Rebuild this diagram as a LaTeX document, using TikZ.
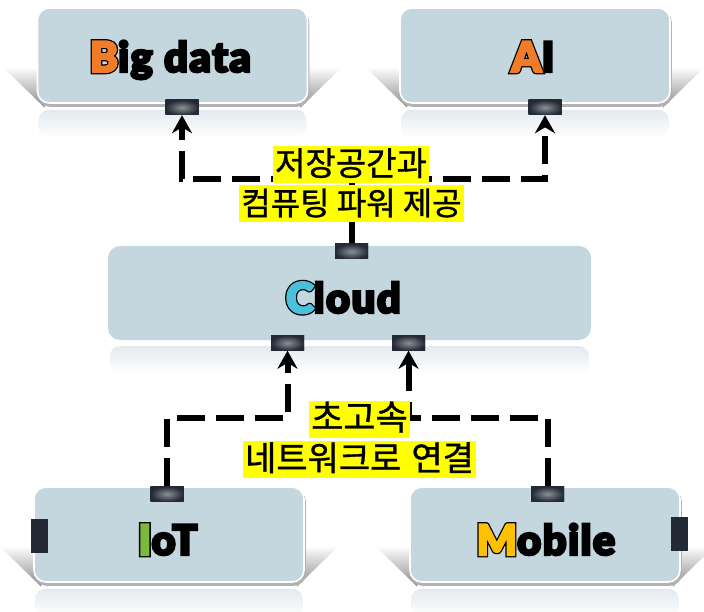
\documentclass[tikz,border=0pt]{standalone}
\usepackage{fontspec}
\usetikzlibrary{arrows.meta,calc,backgrounds}
\newfontfamily\heavy{Lato Black}[FakeBold=5, LetterSpace=3]
\newfontfamily\heavyedge{Lato Black}[FakeBold=11]
\newfontfamily\kr{Noto Sans CJK KR}[FakeBold=1]
\definecolor{boxfill}{HTML}{C4D6DE}
\definecolor{portdark}{HTML}{232A35}
\definecolor{portmid}{HTML}{8C9096}
\definecolor{reflect}{HTML}{E3EAEE}
\definecolor{wingshade}{HTML}{8A8A8A}
\definecolor{hlyellow}{HTML}{FFFF00}
\definecolor{orangeB}{HTML}{F07C2A}
\definecolor{cyanC}{HTML}{4CBFDA}
\definecolor{greenI}{HTML}{7CB83A}
\definecolor{amberM}{HTML}{FFC000}
% coloured first letter with a black outline
\newcommand\lead[2]{\rlap{\heavyedge #2}\textcolor{#1}{#2}}
% reflection under a card
\newcommand\cardbase[1]{%
  \shade[top color=reflect, bottom color=white, rounded corners=10pt]
    ($(#1.south west)+(2,6)$) rectangle ($(#1.south east)+(-2,34)$);}
% perspective side shadows and drop shadow of a card
\newcommand\cardwings[1]{%
  \shade[top color=white, bottom color=wingshade]
    ($(#1.south west)+(-34,-37)$) -- ($(#1.south west)+(8,-37)$) -- ($(#1.south west)+(8,4)$) -- cycle;
  \shade[top color=white, bottom color=wingshade]
    ($(#1.south east)+(34,-37)$) -- ($(#1.south east)+(-8,-37)$) -- ($(#1.south east)+(-8,4)$) -- cycle;
  \fill[gray!60, rounded corners=12pt]
    ($(#1.north west)+(1,3)$) rectangle ($(#1.south east)+(1,3)$);}
\begin{document}
\begin{tikzpicture}[x=1pt,y=-1pt,
  card/.style={rectangle, rounded corners=12pt, fill=boxfill, minimum width=270pt,
    minimum height=95pt, inner sep=0pt},
  rim/.style={draw=white, line width=1.6pt},
  title/.style={font=\heavy\fontsize{42}{44}\selectfont, anchor=base, inner sep=0pt},
  port/.style={rectangle, minimum width=33pt, minimum height=15pt, inner sep=0pt,
    inner color=portmid, outer color=portdark},
  sideport/.style={rectangle, fill=portdark, minimum width=17pt, minimum height=34pt, inner sep=0pt},
  conn/.style={line width=6pt, dash pattern=on 28pt off 11pt},
  tip/.style={-{Stealth[length=18pt,width=20pt]}},
  hl/.style={fill=hlyellow, inner xsep=2pt, inner ysep=0pt, minimum height=37pt,
    text height=27pt, text depth=5pt},
]
\useasboundingbox (0,0) rectangle (704,612);

% cards
\node[card, rim] (bigdata) at (172.5,55.5) {};
\node[card, rim] (ai) at (535,55.5) {};
\node[card, minimum width=483pt, minimum height=94pt] (cloud) at (349.5,293) {};
\node[card, rim] (iot) at (169,534.5) {};
\node[card, rim] (mobile) at (545,534.5) {};

\begin{scope}[on background layer]
  \foreach \c in {bigdata,ai,cloud,iot,mobile} {\cardbase{\c}}
  \foreach \c in {bigdata,ai,iot,mobile} {\cardwings{\c}}
\end{scope}

% card titles
\node[title] (tbig) at ($(bigdata.center)+(-2,16.5)$) {\lead{orangeB}{B}ig data};
\node[title] (tai) at ($(ai.center)+(-2,16.5)$) {\lead{orangeB}{A}I};
\node[title] (tcloud) at ($(cloud.center)+(-6,20)$) {\lead{cyanC}{C}loud};
\node[title] (tiot) at ($(iot.center)+(-1,20.5)$) {\lead{greenI}{I}oT};
\node[title] (tmob) at ($(mobile.center)+(1,20.5)$) {\lead{amberM}{M}obile};

% ports
\node[port] (pbig) at (182,107.5) {};
\node[port] (pai) at (545,107.5) {};
\node[port] (pctop) at (351.5,251.5) {};
\node[port] (pcl) at (287.5,343) {};
\node[port] (pcr) at (408.5,343) {};
\node[port] (piot) at (167,494) {};
\node[port] (pmob) at (547.5,494) {};
\node[sideport] (siot) at (39.5,536) {};
\node[sideport] (smob) at (679,533.5) {};

% junction points
\coordinate (hub) at (351.5,179);
\coordinate (jl) at (287.5,418);
\coordinate (jr) at (408.5,418);

% connectors
\draw[conn, tip] (pctop.north) -- (hub) -| (pbig.south);
\draw[conn, tip] (pctop.north) -- (hub) -| (pai.south);
\draw[conn, tip] (piot.north) |- (jl) -- (pcl.south);
\draw[conn, tip] (pmob.north) |- (jr) -- (pcr.south);

% ports again, above the connector ends
\node[port] at (pbig) {};
\node[port] at (pai) {};
\node[port] at (pctop) {};
\node[port] at (pcl) {};
\node[port] at (pcr) {};
\node[port] at (piot) {};
\node[port] at (pmob) {};

% labels
\node[hl, font=\kr\fontsize{33}{34}\selectfont] (up1) at (351,164.5) {저장공간과\hspace{4pt}};
\node[hl, font=\kr\fontsize{32}{33}\selectfont] (up2) at (351.5,204) {컴퓨팅 파워 제공};
\node[hl, font=\kr\fontsize{35}{36}\selectfont] (dn1) at (359.5,419) {초고속};
\node[hl, font=\kr\fontsize{34}{35}\selectfont] (dn2) at (359.5,459.5) {네트워크로\hspace{10pt}연결};
\end{tikzpicture}
\end{document}
